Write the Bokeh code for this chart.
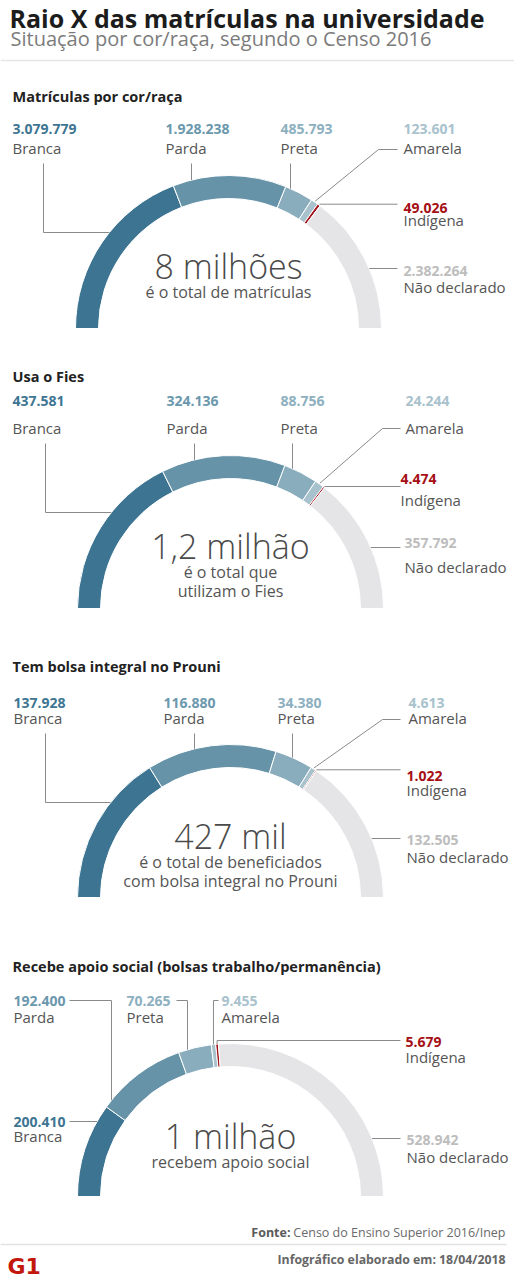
import math
from bokeh.plotting import figure
from bokeh.models import ColumnDataSource
from bokeh.core.properties import value
from bokeh.embed import file_html
from bokeh.resources import INLINE

# ---------------- data ----------------
categories = ["Branca", "Parda", "Preta", "Amarela", "Indígena", "Não declarado"]
matriculas = [3079779, 1928238, 485793, 123601, 49026, 2382264]
fies = [437581, 324136, 88756, 24244, 4474, 357792]
prouni = [137928, 116880, 34380, 4613, 1022, 132505]
apoio = [200410, 192400, 70265, 9455, 5679, 528942]
section_titles = ["Matrículas por cor/raça", "Usa o Fies",
                  "Tem bolsa integral no Prouni",
                  "Recebe apoio social (bolsas trabalho/permanência)"]
totals_text = ["8 milhões", "1,2 milhão", "427 mil", "1 milhão"]
totals_sub = [["é o total de matrículas"],
              ["é o total que", "utilizam o Fies"],
              ["é o total de beneficiados", "com bolsa integral no Prouni"],
              ["recebem apoio social"]]
title_text = "Raio X das matrículas na universidade"
subtitle_text = "Situação por cor/raça, segundo o Censo 2016"
source_label = "Fonte:"
source_text = "Censo do Ensino Superior 2016/Inep"
date_text = "Infográfico elaborado em: 18/04/2018"

# ---------------- style ----------------
W, H = 514, 1280
FONT = value("Open Sans")
LIGHT = value("Open Sans Light, Open Sans")
wedge_colors = ["#3c7491", "#6693a8", "#8aadbe", "#a8c2cd", "#a0131b", "#e5e5e7"]
num_colors = ["#3e7592", "#6b98ad", "#8db0c0", "#a9c2cd", "#a50f15", "#bdbdbd"]
NAME_COLOR = "#555555"
LINE_COLOR = "#8a8a8a"
R_OUT, R_IN = 153, 130
SHIFT = 0.34  # baseline correction (fraction of font size)

S_TITLE, S_NUM, S_NAME, S_BIG, S_SUB = 14.5, 14, 15, 34, 16


def Y(v):
    return H - v


def B(v, size):
    """data y for a text whose baseline should sit at pixel row v"""
    return Y(v - SHIFT * size)


def fmt(v):
    return f"{v:,}".replace(",", ".")


p = figure(width=W, height=H, x_range=(0, W), y_range=(0, H),
           output_backend="svg", toolbar_location=None,
           x_axis_location=None, y_axis_location=None, min_border=0)
p.grid.visible = False
p.outline_line_color = None
p.background_fill_color = "white"
p.border_fill_color = "white"

# layout of the four gauges (pixel positions, y measured from top)
layouts = [
    dict(values=matriculas, title_y=101, cx=228, cy=328, big_y=277, sub_y=[297],
         labels=[(12, 133, 153), (165, 133, 153), (280, 133, 153), (403, 133, 153),
                 (403, 212, 225), (403, 275, 292)],
         lead=dict(bx=43, top=163, by=232, px=191, tx=290, knee=(378, 149), end=397, ndy=268)),
    dict(values=fies, title_y=381, cx=230, cy=608, big_y=557, sub_y=[577, 596],
         labels=[(12, 405, 433), (166, 405, 433), (280, 405, 433), (405, 405, 433),
                 (400, 483, 505), (404, 547, 572)],
         lead=dict(bx=45, top=443, by=512, px=194, tx=292, knee=(382, 428), end=400, ndy=547)),
    dict(values=prouni, title_y=671, cx=230, cy=897, big_y=847, sub_y=[867, 886],
         labels=[(13, 707, 723), (163, 707, 723), (277, 707, 723), (408, 707, 723),
                 (406, 780, 795), (406, 844, 862)],
         lead=dict(bx=45, top=733, by=802, px=194, tx=292, knee=(382, 719), end=400, ndy=838)),
    dict(values=apoio, title_y=971, cx=230, cy=1196, big_y=1147, sub_y=[1167],
         labels=[(13, 1126, 1141), (13, 1005, 1022), (126, 1005, 1022), (221, 1005, 1022),
                 (405, 1046, 1062), (406, 1144, 1162)],
         lead=None),
]

title_x, title_y, title_t = [], [], []
num_x, num_y, num_t, num_c = [], [], [], []
name_x, name_y, name_t = [], [], []
big_x, big_y, big_t = [], [], []
sub_x, sub_y, sub_t = [], [], []
lxs, lys = [], []


def arc_pt(cx, cy, frac, r):
    th = math.pi * (1 - frac)
    return cx + r * math.cos(th), cy - r * math.sin(th)


def hit_v(cx, cy, x):
    return cy - math.sqrt(R_OUT ** 2 - (x - cx) ** 2)


def hit_h(cx, cy, y, side):
    return cx + side * math.sqrt(R_OUT ** 2 - (cy - y) ** 2)


def add_line(pts):
    lxs.append([a for a, b in pts])
    lys.append([Y(b) for a, b in pts])


for i, L in enumerate(layouts):
    vals = L["values"]
    tot = float(sum(vals))
    cum = [0.0]
    for v in vals:
        cum.append(cum[-1] + v / tot)
    cx, cy = L["cx"], L["cy"]
    src = ColumnDataSource(dict(
        x=[cx] * len(vals), y=[Y(cy)] * len(vals),
        start=[math.pi * (1 - cum[k + 1]) for k in range(len(vals))],
        end=[math.pi * (1 - cum[k]) for k in range(len(vals))],
        color=wedge_colors, cat=categories, val=vals))
    p.annular_wedge(x="x", y="y", inner_radius=R_IN, outer_radius=R_OUT,
                    start_angle="start", end_angle="end", direction="anticlock",
                    fill_color="color", line_color="white", line_width=1, source=src)

    title_x.append(12); title_y.append(B(L["title_y"], S_TITLE)); title_t.append(section_titles[i])
    for k, (lx, ny, nmy) in enumerate(L["labels"]):
        num_x.append(lx); num_y.append(B(ny, S_NUM)); num_t.append(fmt(vals[k])); num_c.append(num_colors[k])
        name_x.append(lx); name_y.append(B(nmy, S_NAME)); name_t.append(categories[k])
    big_x.append(cx); big_y.append(B(L["big_y"], S_BIG)); big_t.append(totals_text[i])
    for s, sy in zip(totals_sub[i], L["sub_y"]):
        sub_x.append(cx); sub_y.append(B(sy, S_SUB)); sub_t.append(s)

    mid_am = (cum[3] + cum[4]) / 2
    mid_in = (cum[4] + cum[5]) / 2
    ld = L["lead"]
    if ld is not None:
        add_line([(ld["bx"], ld["top"]), (ld["bx"], ld["by"]),
                  (hit_h(cx, cy, ld["by"], -1), ld["by"])])
        add_line([(ld["px"], ld["top"]), (ld["px"], hit_v(cx, cy, ld["px"]))])
        add_line([(ld["tx"], ld["top"]), (ld["tx"], hit_v(cx, cy, ld["tx"]))])
        ax, ay = arc_pt(cx, cy, mid_am, R_OUT + 1)
        add_line([(ax, ay), ld["knee"], (ld["end"], ld["knee"][1])])
        ix, iy = arc_pt(cx, cy, mid_in, R_OUT + 1)
        add_line([(ix, iy), (ld["end"], iy)])
        add_line([(hit_h(cx, cy, ld["ndy"], 1), ld["ndy"]), (ld["end"], ld["ndy"])])
    else:
        # recebe apoio social: custom leaders
        add_line([(69, 1000), (111, 1000), (111, hit_v(cx, cy, 111))])
        add_line([(176, 1000), (187, 1000), (187, hit_v(cx, cy, 187))])
        ax, ay = arc_pt(cx, cy, mid_am, R_OUT)
        add_line([(218, 1000), (ax, 1000), (ax, ay)])
        ix, iy = arc_pt(cx, cy, mid_in, R_OUT)
        add_line([(ix, iy), (ix, 1040), (400, 1040)])
        add_line([(69, 1121), (hit_h(cx, cy, 1121, -1), 1121)])
        add_line([(hit_h(cx, cy, 1138, 1), 1138), (400, 1138)])

p.multi_line(xs=lxs, ys=lys, line_color=LINE_COLOR, line_width=1)

# header
p.text(x=[9], y=[B(26, 25)], text=[title_text], text_font=FONT, text_font_style="bold",
       text_font_size="25px", text_color="#1c1c1c", text_baseline="alphabetic")
p.text(x=[10], y=[B(45, 20)], text=[subtitle_text], text_font=FONT,
       text_font_size="20px", text_color="#7b7b7b", text_baseline="alphabetic")
p.segment(x0=[0], y0=[Y(60)], x1=[W], y1=[Y(60)], line_color="#e6e6e6", line_width=1.5)

# chart texts
p.text(x=title_x, y=title_y, text=title_t, text_font=FONT, text_font_style="bold",
       text_font_size=f"{S_TITLE}px", text_color="#222222", text_baseline="alphabetic")
p.text(x="x", y="y", text="t", text_color="c",
       source=ColumnDataSource(dict(x=num_x, y=num_y, t=num_t, c=num_c)),
       text_font=FONT, text_font_style="bold", text_font_size=f"{S_NUM}px",
       text_baseline="alphabetic")
p.text(x=name_x, y=name_y, text=name_t, text_font=FONT, text_font_size=f"{S_NAME}px",
       text_color=NAME_COLOR, text_baseline="alphabetic")
p.text(x=big_x, y=big_y, text=big_t, text_font=LIGHT, text_font_size=f"{S_BIG}px",
       text_color="#4a4a4a", text_align="center", text_baseline="alphabetic")
p.text(x=sub_x, y=sub_y, text=sub_t, text_font=FONT, text_font_size=f"{S_SUB}px",
       text_color="#555555", text_align="center", text_baseline="alphabetic")

# footer
p.text(x=[505], y=[B(1236, 12.5)], text=[source_text], text_font=FONT, text_font_size="12.5px",
       text_color="#6a6a6a", text_align="right", text_baseline="alphabetic")
p.text(x=[290], y=[B(1236, 12.5)], text=[source_label], text_font=FONT, text_font_style="bold",
       text_font_size="12.5px", text_color="#5a5a5a", text_align="right", text_baseline="alphabetic")
p.segment(x0=[0], y0=[Y(1244)], x1=[506], y1=[Y(1244)], line_color="#e3e3e3", line_width=1.5)
p.text(x=[505], y=[B(1263, 12.3)], text=[date_text], text_font=FONT, text_font_style="bold",
       text_font_size="12.3px", text_color="#666666", text_align="right", text_baseline="alphabetic")
p.text(x=[7], y=[B(1273, 22)], text=["G1"], text_font=value("DejaVu Sans"), text_font_style="bold",
       text_font_size="22px", text_color="#c4170c", text_baseline="alphabetic")

open("out.html", "w").write(file_html(p, INLINE))
